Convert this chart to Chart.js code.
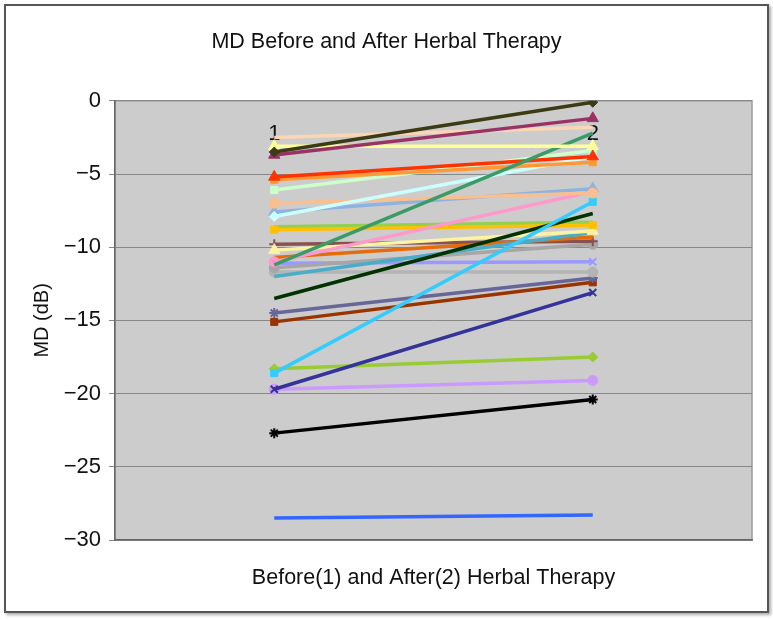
<!DOCTYPE html>
<html><head><meta charset="utf-8">
<script src="https://cdn.jsdelivr.net/npm/chart.js@4.4.1/dist/chart.umd.min.js"></script>
<style>
html,body{margin:0;padding:0;background:#fff;}
#wrap{position:relative;width:773px;height:620px;}
#frame{position:absolute;left:4px;top:4px;width:761px;height:605px;border:2px solid #555;box-shadow:2px 2px 3px #aaa;pointer-events:none;}
canvas{position:absolute;left:0;top:0;}
</style></head><body>
<div id="wrap"><canvas id="c" width="773" height="620"></canvas><div id="frame"></div></div>
<script>
const chartTitle = 'MD Before and After Herbal Therapy';
const xTitle = 'Before(1) and After(2) Herbal Therapy';
const yTitle = 'MD (dB)';
const categories = ['1', '2'];
const yTicks = [0, -5, -10, -15, -20, -25, -30];

// MD values per eye: before (1) and after (2)
const beforeValues = [-3.5, -3.7, -2.5, -3.1, -11.2, -5.2, -5.4, -6.1, -7.9, -7.0,
                      -7.6, -11.0, -18.6, -13.5, -8.8, -8.6, -10.2, -12.0, -10.7, -9.8,
                      -11.4, -11.1, -11.7, -14.5, -15.1, -19.7, -18.3, -19.7, -22.7, -28.5];
const afterValues  = [-0.1, -1.2, -1.8, -3.1, -2.2, -3.8, -4.2, -3.4, -3.8, -6.3,
                      -6.0, -6.2, -6.9, -7.7, -8.5, -8.3, -8.9, -9.0, -9.3, -9.6,
                      -9.8, -11.0, -11.7, -12.1, -12.4, -13.1, -17.5, -19.1, -20.4, -28.3];

// styles
const lineColors = ['#3b3b14', '#993366', '#fcd5b4', '#ffff99', '#3a9b66', '#ff3300', '#ff9933', '#ccffcc', '#ccffff', '#fabf8f',
                    '#8db3e2', '#ff99cc', '#33ccff', '#003300', '#ffc000', '#92d050', '#fff2a0', '#4bacc6', '#e46c0a', '#8b5050',
                    '#a6a6a6', '#9999ff', '#b4b4b4', '#666699', '#993300', '#333399', '#99cc33', '#cc99ff', '#000000', '#3366ff'];
const markers = ['rectRot', 'triangle', false, 'triangle', false, 'triangle', 'rect', 'rect', 'rectRot', 'circle',
                 'triangle', 'circle', 'rect', false, 'rect', false, 'triangle', false, false, 'cross',
                 'circle', 'crossRot', 'circle', 'star', 'rect', 'crossRot', 'rectRot', 'circle', 'star', false];

const FONT = "'Liberation Sans', Arial, sans-serif";

const datasets = beforeValues.map((b, i) => ({
  label: 'Eye ' + (i + 1),
  data: [b, afterValues[i]],
  borderColor: lineColors[i],
  backgroundColor: lineColors[i],
  borderWidth: 3.5,
  pointStyle: markers[i] === false ? 'circle' : markers[i],
  pointRadius: markers[i] === false ? 0 : (markers[i] === 'triangle' ? 6.5 : 5),
  pointBorderWidth: (markers[i] === 'cross' || markers[i] === 'crossRot' || markers[i] === 'star') ? 2 : 1,
  tension: 0,
  fill: false
}));

const bgPlugin = {
  id: 'plotBg',
  beforeDraw(chart) {
    const {ctx, chartArea: a} = chart;
    ctx.save();
    ctx.fillStyle = '#cccccc';
    ctx.fillRect(a.left, a.top, a.right - a.left, a.bottom - a.top);
    ctx.strokeStyle = '#9a9a9a';
    ctx.lineWidth = 1.5;
    ctx.strokeRect(a.left, a.top, a.right - a.left, a.bottom - a.top);
    ctx.restore();
  }
};

new Chart(document.getElementById('c'), {
  type: 'line',
  data: { labels: categories, datasets },
  options: {
    responsive: false, animation: false, devicePixelRatio: 1,
    layout: { padding: { left: 0, right: 0, top: 0, bottom: 0 } },
    plugins: {
      legend: { display: false }, tooltip: { enabled: false },
      title: { display: true, text: chartTitle, color: '#111',
               font: { family: FONT, size: 21.5, weight: 'normal' }, padding: { top: 29, bottom: 46 } }
    },
    scales: {
      x: { type: 'category', position: 'bottom', offset: true,
           grid: { display: false, drawTicks: false },
           border: { display: true, color: '#666', width: 1.5 },
           ticks: { display: false },
           title: { display: true, text: xTitle, color: '#111', font: { family: FONT, size: 21.5 }, padding: { top: 0, bottom: 29 } },
           afterFit(s) { s.height = 80; } },
      xTop: { type: 'category', position: { y: 0 }, labels: categories, offset: true, z: 1,
              grid: { display: false, drawTicks: false }, border: { display: false },
              ticks: { color: '#111', font: { family: FONT, size: 22 }, padding: 20 } },
      y: { min: -30, max: 0,
           afterBuildTicks(s) { s.ticks = yTicks.map(v => ({ value: v })); },
           ticks: { color: '#111', font: { family: FONT, size: 22 }, padding: 8,
                    callback: v => String(v).replace('-', '\u2212') },
           grid: { color: '#888', lineWidth: 1, tickLength: 6 },
           border: { color: '#666', width: 1.5 },
           title: { display: true, text: yTitle, color: '#111', font: { family: FONT, size: 20 }, padding: { top: 30, bottom: 0 } },
           afterFit(s) { s.width = 115; } },
      yRight: { position: 'right', min: -30, max: 0, display: true,
                ticks: { display: false }, grid: { display: false, drawTicks: false }, border: { display: false },
                afterFit(s) { s.width = 21; } }
    }
  },
  plugins: [bgPlugin]
});
</script>
</body></html>
